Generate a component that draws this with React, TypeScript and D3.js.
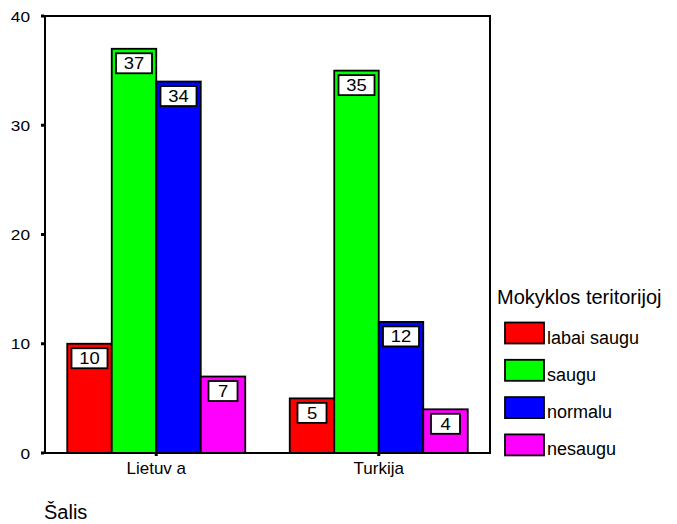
import React from "react";
import * as d3 from "d3";

const categories = ["Lietuv a", "Turkija"];
const seriesNames = ["labai saugu", "saugu", "normalu", "nesaugu"];
const seriesColors = ["#ff0000", "#00ff00", "#0000ff", "#ff00ff"];
const labaiSaugu = [10, 5];
const saugu = [37, 35];
const normalu = [34, 12];
const nesaugu = [7, 4];
const yTicks = [0, 10, 20, 30, 40];
const legendTitle = "Mokyklos teritorijoj";
const xTitle = "Šalis";

const seriesValues = [labaiSaugu, saugu, normalu, nesaugu];

export default function App() {
  const W = 677, H = 524;
  const left = 45, right = 490, top = 16, bottom = 453;
  const font = "'Liberation Sans', Arial, sans-serif";

  const x0 = d3.scaleBand<string>().domain(categories).range([left, right]).padding(0);
  const bw = x0.bandwidth();
  const x1 = d3.scaleBand<string>().domain(seriesNames).range([bw * 0.1, bw * 0.9]).padding(0);
  const y = d3.scaleLinear().domain([0, 40]).range([bottom, top]);

  return (
    <svg width={W} height={H} style={{ position: "absolute", left: 0, top: 0, background: "#fff" }} fontFamily={font}>
      <rect x={0} y={0} width={W} height={H} fill="#fff" />
      {/* bars */}
      {categories.map((c, ci) => (
        <g key={c}>
          {seriesNames.map((s, si) => {
            const v = seriesValues[si][ci];
            const bx = (x0(c) as number) + (x1(s) as number);
            const by = y(v);
            const w = x1.bandwidth();
            const label = String(v);
            const boxW = label.length > 1 ? 36 : 29;
            const cx = bx + w / 2;
            return (
              <g key={s}>
                <rect x={bx} y={by} width={w} height={bottom - by} fill={seriesColors[si]} stroke="#000" strokeWidth={1.8} />
                <rect x={cx - boxW / 2} y={by + 4.5} width={boxW} height={20} fill="#fff" stroke="#000" strokeWidth={1.8} />
                <text transform={`translate(${cx},${by + 20.5}) scale(1.15,1)`} textAnchor="middle" fontSize={16} fill="#000">{label}</text>
              </g>
            );
          })}
        </g>
      ))}
      {/* frame */}
      <rect x={left} y={top} width={right - left} height={bottom - top} fill="none" stroke="#000" strokeWidth={2} />
      {/* y ticks */}
      {yTicks.map((t) => (
        <g key={t}>
          <rect x={left - 4} y={y(t) - 1.5} width={3} height={3} fill="#000" />
          <text transform={`translate(30,${y(t) + 5.5}) scale(1.15,1)`} textAnchor="end" fontSize={15} fill="#000">{t}</text>
        </g>
      ))}
      {/* x ticks */}
      {categories.map((c) => {
        const cx = (x0(c) as number) + bw / 2;
        return (
          <g key={c}>
            <rect x={cx - 1.5} y={bottom} width={3} height={3} fill="#000" />
            <text x={cx} y={474} textAnchor="middle" fontSize={17} fill="#000">{c}</text>
          </g>
        );
      })}
      <text x={44} y={519} fontSize={20} fill="#000">{xTitle}</text>
      {/* legend */}
      <text x={497} y={304} fontSize={20} fill="#000">{legendTitle}</text>
      {seriesNames.map((s, i) => {
        const ly = 322.5 + i * 37.3;
        return (
          <g key={s}>
            <rect x={505} y={ly} width={39} height={21} fill={seriesColors[i]} stroke="#000" strokeWidth={1.8} />
            <text x={547} y={ly + 21} fontSize={18} fill="#000">{s}</text>
          </g>
        );
      })}
    </svg>
  );
}
